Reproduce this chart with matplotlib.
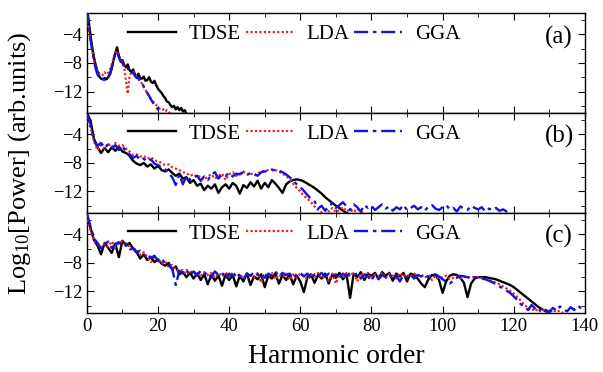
import numpy as np
import matplotlib
matplotlib.use("Agg")
import matplotlib.pyplot as plt
from matplotlib.ticker import MultipleLocator

plt.rcParams['font.family'] = ['Liberation Serif', 'DejaVu Serif']
plt.rcParams['mathtext.fontset'] = 'custom'
plt.rcParams['mathtext.rm'] = 'Liberation Serif'
plt.rcParams['mathtext.it'] = 'Liberation Serif'
plt.rcParams['mathtext.default'] = 'regular'

# ---- panel (a): harmonic order step 0.5 ----
step_a = 0.5
tdse_a = [0.0, -2.0, -4.0, -5.8, -7.2, -8.3, -9.2, -9.9, -10.2, -10.3,
          -10.1, -10.3, -10.0, -9.6, -8.8, -7.6, -6.6, -5.8, -7.0, -7.8,
          -7.6, -8.3, -8.6, -8.2, -9.0, -9.3, -8.9, -9.6, -9.9, -9.5,
          -10.1, -10.2, -9.9, -10.5, -10.4, -10.0, -10.6, -10.8, -10.5, -11.1,
          -11.6, -11.9, -12.2, -12.6, -12.9, -13.4, -13.5, -13.9, -14.2, -14.0,
          -14.5, -14.2, -14.6, -14.3, -14.8, -14.6, -15.1]
lda_a = [-1.5, -3.0, -4.8, -6.3, -7.6, -8.6, -9.2, -9.5, -9.4, -9.7,
         -9.3, -9.6, -9.4, -9.0, -8.2, -7.3, -6.6, -6.3, -7.0, -7.4,
         -7.9, -8.6, -10.5, -12.3, -9.8, -9.4, -9.2, -9.4, -9.9, -10.3,
         -10.6, -10.9, -11.4, -11.8, -12.3, -12.6, -13.0, -13.3, -13.6, -13.9,
         -14.2, -14.4, -14.6, -14.5, -14.8, -14.6, -14.9, -15.0, -15.1]
gga_a = [-0.5, -2.5, -4.5, -6.2, -7.6, -8.8, -9.6, -10.1, -10.3, -10.2,
         -10.4, -10.2, -10.0, -9.5, -8.6, -7.5, -6.7, -6.5, -7.2, -7.7,
         -8.0, -8.5, -8.8, -8.7, -9.2, -9.5, -9.3, -9.8, -10.1, -10.0,
         -10.5, -10.8, -11.3, -11.8, -12.2, -12.6, -13.1, -13.5, -13.9, -14.2,
         -14.5, -14.8, -15.1]

# ---- panel (b): harmonic order step 1 ----
tdse_b = [-1.0, -2.0, -4.6, -5.8, -6.6, -5.9, -6.5, -5.8, -6.3, -5.7,
          -6.4, -6.6, -7.0, -7.7, -8.1, -8.3, -8.0, -8.5, -8.2, -8.8,
          -8.4, -9.0, -9.2, -8.9, -9.4, -9.8, -9.5, -10.2, -10.0, -10.8,
          -10.4, -11.2, -10.9, -11.8, -11.2, -11.6, -11.0, -12.2, -11.4, -11.0,
          -11.6, -10.8, -11.2, -12.3, -11.1, -11.5, -10.7, -11.3, -10.5, -11.6,
          -10.8, -11.4, -10.4, -10.9, -11.5, -12.2, -11.0, -10.6, -10.4, -10.3,
          -10.4, -10.6, -10.9, -11.2, -11.5, -11.9, -12.3, -12.8, -13.2, -13.6,
          -14.0, -14.3, -14.7, -15.0]
lda_b = [-1.5, -3.0, -5.0, -6.2, -5.5, -6.0, -5.3, -5.8, -5.2, -5.6,
         -5.5, -6.0, -6.4, -6.9, -6.8, -7.1, -7.0, -7.4, -7.2, -7.6,
         -7.8, -8.0, -8.3, -8.2, -8.6, -8.8, -9.0, -9.3, -9.4, -9.8,
         -9.6, -10.0, -9.8, -10.3, -9.9, -9.6, -10.2, -9.8, -9.5, -10.4,
         -9.6, -9.3, -9.8, -9.5, -9.2, -9.6, -9.4, -9.8, -9.5, -9.2,
         -9.1, -9.0, -8.9, -9.0, -9.2, -9.5, -9.8, -10.3, -10.9, -11.5,
         -12.0, -12.6, -13.0, -13.5, -14.1, -14.6, -14.9, -14.5, -14.8, -14.3,
         -14.9, -14.6, -14.2, -14.8, -14.5, -14.9, -14.4, -14.8, -15.1]
gga_b = [-1.2, -2.5, -4.8, -5.6, -5.2, -5.9, -5.4, -6.0, -5.5, -6.2,
         -5.6, -6.5, -6.8, -7.3, -7.0, -7.6, -7.4, -7.8, -7.5, -8.1,
         -8.3, -8.6, -8.9, -9.4, -10.0, -11.1, -9.6, -11.0, -9.8, -10.4,
         -10.1, -9.8, -10.5, -9.9, -10.4, -9.7, -9.3, -10.2, -9.6, -9.8,
         -9.4, -9.9, -9.5, -9.6, -9.3, -9.7, -9.4, -9.5, -9.8, -9.3,
         -9.2, -9.1, -9.0, -9.0, -9.1, -9.3, -9.6, -10.0, -10.4, -11.0,
         -11.4, -11.9, -12.5, -13.0, -13.4, -14.4, -14.0, -14.7, -14.2, -13.6,
         -14.3, -13.9, -13.5, -14.1, -14.6, -13.8, -14.2, -14.8, -13.9, -14.3,
         -14.0, -14.6, -14.2, -13.8, -14.4, -14.1, -14.7, -14.2, -14.5, -13.9,
         -14.6, -14.3, -14.0, -14.5, -14.2, -14.7, -14.1, -13.9, -14.4, -14.6,
         -14.2, -13.9, -14.5, -14.3, -14.8, -14.1, -14.4, -14.6, -14.0, -14.3,
         -14.5, -14.2, -14.8, -14.4, -14.6, -14.3, -14.7, -14.5, -14.8, -14.9]

# ---- panel (c): harmonic order step 1 ----
tdse_c = [-1.5, -3.0, -4.8, -5.6, -6.8, -5.2, -5.9, -6.6, -5.3, -7.2,
          -4.9, -5.6, -5.2, -6.0, -6.5, -7.4, -6.8, -7.6, -7.2, -7.9,
          -7.5, -8.1, -8.4, -8.0, -8.9, -8.5, -9.6, -9.3, -10.0, -9.4,
          -10.2, -9.5, -10.4, -9.6, -11.0, -9.7, -10.5, -9.8, -11.2, -9.6,
          -10.4, -9.7, -11.3, -9.8, -10.6, -9.5, -11.1, -9.9, -10.3, -9.6,
          -11.4, -9.8, -10.2, -9.5, -10.9, -9.7, -10.4, -9.6, -11.0, -9.8,
          -10.6, -12.1, -10.0, -9.6, -10.8, -9.7, -10.2, -9.5, -10.9, -9.6,
          -10.1, -9.4, -10.3, -9.6, -12.9, -9.5, -10.0, -9.3, -10.4, -9.5,
          -9.8, -9.4, -10.2, -9.3, -9.8, -9.4, -10.5, -9.5, -9.9, -9.4,
          -10.6, -9.5, -9.7, -10.2, -10.9, -11.4, -10.3, -9.7, -9.8, -10.4,
          -12.2, -10.6, -9.8, -9.6, -9.7, -10.1, -10.8, -12.8, -10.9, -10.2,
          -10.0, -10.0, -10.0, -10.1, -10.2, -10.3, -10.5, -10.7, -10.9, -11.1,
          -11.4, -11.8, -12.2, -12.6, -13.0, -13.4, -13.8, -14.2, -14.5, -14.8,
          -15.1]
lda_c = [-2.0, -3.4, -4.9, -5.4, -5.9, -5.3, -5.7, -5.0, -5.8, -5.2,
         -5.0, -5.4, -5.7, -6.3, -6.0, -6.9, -6.5, -7.2, -7.9, -7.1,
         -7.6, -8.2, -7.8, -8.6, -8.3, -8.9, -9.2, -9.0, -9.6, -9.1,
         -9.5, -9.2, -9.8, -9.3, -9.7, -9.4, -10.1, -9.5, -9.8, -9.3,
         -10.0, -9.4, -9.9, -9.6, -10.2, -9.5, -9.7, -10.1, -9.4, -10.8,
         -9.6, -9.9, -9.4, -10.3, -9.7, -10.0, -9.5, -10.4, -9.6, -10.1,
         -9.5, -9.9, -10.3, -9.6, -10.0, -9.4, -10.2, -9.7, -10.5, -9.5,
         -10.9, -9.6, -10.1, -9.4, -9.9, -9.3, -10.6, -9.5, -10.0, -9.4,
         -10.3, -9.6, -9.9, -9.3, -10.1, -9.5, -9.8, -10.2, -9.4, -9.9,
         -9.6, -10.0, -9.5, -9.8, -9.6, -10.1, -9.7, -10.4, -9.8, -10.2,
         -10.0, -9.8, -10.3, -10.1, -9.9, -10.2, -9.9, -10.1, -10.0, -10.0,
         -10.0, -10.1, -10.2, -10.4, -10.6, -10.8, -11.0, -11.3, -11.6, -11.9,
         -12.3, -12.8, -13.3, -13.9, -14.3, -14.7, -14.4, -14.9, -14.5, -14.8,
         -15.0, -14.6, -14.9, -14.7, -15.1]
gga_c = [-1.0, -2.8, -4.6, -5.2, -6.0, -5.5, -5.0, -5.9, -5.4, -5.1,
         -5.6, -5.3, -6.1, -5.9, -6.6, -6.3, -7.0, -6.7, -7.3, -7.0,
         -7.7, -7.4, -8.1, -8.4, -8.8, -11.1, -9.1, -9.5, -9.0, -9.7,
         -9.2, -9.8, -9.1, -9.6, -9.3, -10.0, -9.2, -9.7, -9.4, -10.3,
         -9.5, -9.9, -9.3, -9.8, -10.4, -9.5, -9.8, -9.3, -9.7, -9.4,
         -10.1, -9.5, -9.8, -9.2, -9.9, -9.4, -9.7, -9.5, -10.2, -9.6,
         -9.4, -9.9, -9.5, -10.3, -9.6, -9.8, -9.4, -10.0, -9.5, -9.8,
         -9.6, -10.1, -9.5, -9.9, -9.4, -9.7, -9.5, -10.2, -9.6, -9.9,
         -10.5, -9.6, -10.3, -9.7, -10.0, -9.6, -10.4, -9.8, -10.6, -9.7,
         -10.0, -9.6, -10.2, -9.7, -9.9, -9.6, -10.0, -9.7, -9.6, -9.9,
         -10.3, -10.6, -10.9, -10.5, -10.1, -9.8, -9.9, -10.0, -10.1, -10.0,
         -10.1, -10.2, -10.3, -10.5, -10.7, -11.0, -11.3, -11.6, -11.9, -12.2,
         -12.7, -13.2, -13.8, -14.1, -14.6, -13.9, -14.4, -14.8, -14.2, -14.6,
         -14.9, -14.3, -14.7, -14.1, -14.5, -14.8, -14.2, -14.6, -14.0, -14.4,
         -14.7]

panels = [
    ("(a)", step_a, tdse_a, lda_a, gga_a),
    ("(b)", 1.0, tdse_b, lda_b, gga_b),
    ("(c)", 1.0, tdse_c, lda_c, gga_c),
]

fig = plt.figure(figsize=(6.03, 3.72), dpi=100)
gs = fig.add_gridspec(3, 1, left=0.144, right=0.970, bottom=0.159,
                      top=0.965, hspace=0)

axes = []
for i, (lab, step, tdse, lda, gga) in enumerate(panels):
    ax = fig.add_subplot(gs[i], sharex=axes[0] if axes else None)
    axes.append(ax)
    ax.plot(np.arange(len(tdse)) * step, tdse, color='black', lw=1.7,
            label='TDSE', zorder=3)
    ax.plot(np.arange(len(lda)) * step, lda, color='#e8222a', lw=1.6,
            ls=(0, (1, 1)), label='LDA', zorder=4)
    ax.plot(np.arange(len(gga)) * step, gga, color='#1414d8', lw=1.7,
            ls=(0, (6, 2, 1.5, 2)), label='GGA', zorder=5)

    ax.set_xlim(0, 140)
    ax.set_ylim(-15, -1)
    ax.set_yticks([-4, -8, -12])
    ax.yaxis.set_minor_locator(MultipleLocator(2))
    ax.xaxis.set_major_locator(MultipleLocator(20))
    ax.xaxis.set_minor_locator(MultipleLocator(10))
    ax.tick_params(which='both', direction='in', top=True, right=True,
                   labelsize=13.5)
    ax.tick_params(which='major', length=5)
    ax.tick_params(which='minor', length=3)
    for sp in ax.spines.values():
        sp.set_linewidth(1.0)

    ax.legend(loc='center', bbox_to_anchor=(0.416, 0.79), ncol=3,
              frameon=False, fontsize=15, handlelength=2.3,
              handletextpad=0.6, columnspacing=0.25, borderpad=0,
              borderaxespad=0)
    ax.text(0.948, 0.76, lab, transform=ax.transAxes, ha='center',
            va='center', fontsize=18)
    if i < 2:
        ax.tick_params(labelbottom=False)

axes[2].set_xlabel('Harmonic order', fontsize=20, labelpad=7)
fig.text(0.033, 0.56, 'Log$_{10}$[Power] (arb.units)', rotation=90,
         ha='center', va='center', fontsize=19)

fig.savefig('out.png', dpi=100)
